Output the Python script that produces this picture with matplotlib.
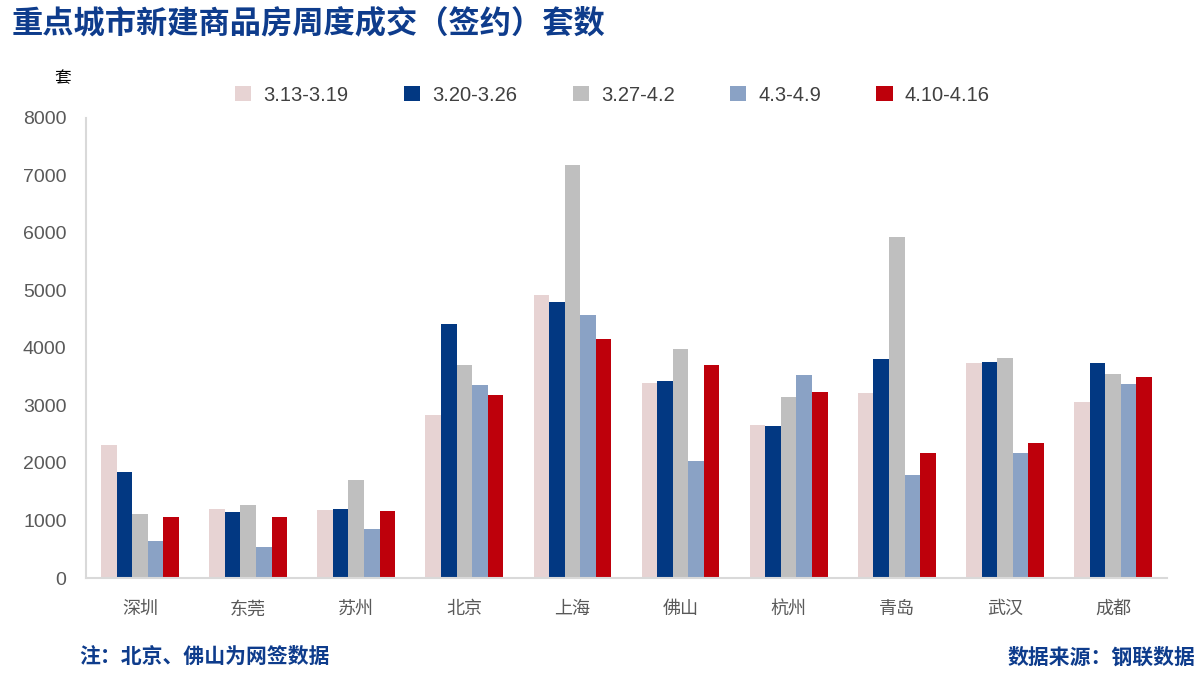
import numpy as np
import matplotlib
matplotlib.use("Agg")
import matplotlib.pyplot as plt

plt.rcParams['font.family'] = ['Noto Sans CJK SC', 'DejaVu Sans']

cities = ["深圳", "东莞", "苏州", "北京", "上海", "佛山", "杭州", "青岛", "武汉", "成都"]
weeks = ["3.13-3.19", "3.20-3.26", "3.27-4.2", "4.3-4.9", "4.10-4.16"]

w_0313 = [2320, 1200, 1185, 2835, 4920, 3390, 2660, 3220, 3740, 3060]
w_0320 = [1845, 1150, 1200, 4420, 4800, 3425, 2645, 3810, 3755, 3740]
w_0327 = [1115, 1270, 1705, 3705, 7185, 3985, 3150, 5930, 3825, 3550]
w_0403 = [645, 540, 850, 3355, 4575, 2035, 3530, 1790, 2175, 3375]
w_0410 = [1060, 1060, 1165, 3185, 4155, 3705, 3235, 2175, 2350, 3495]

series = [w_0313, w_0320, w_0327, w_0403, w_0410]
colors = ["#E7D3D3", "#023882", "#BFBFBF", "#8AA2C5", "#BE000B"]

fig = plt.figure(figsize=(12, 6.75), dpi=100)
ax = fig.add_axes([0.0717, 0.1437, 0.9008, 0.6815])

x = np.arange(len(cities))
bw = 0.144
for i, (vals, c, lab) in enumerate(zip(series, colors, weeks)):
    ax.bar(x + (i - 2) * bw, vals, width=bw, color=c, label=lab)

ax.set_xlim(-0.5, len(cities) - 0.5)
ax.set_ylim(0, 8000)
ax.set_yticks(range(0, 8001, 1000))
ax.set_xticks(x)
ax.set_xticklabels(cities, fontsize=13, color="#595959")
ax.tick_params(axis="y", labelsize=14, labelcolor="#595959", length=0, pad=14)
for t in ax.get_yticklabels():
    t.set_family("Liberation Sans")
ax.tick_params(axis="x", length=0, pad=16)
for s in ["top", "right"]:
    ax.spines[s].set_visible(False)
for s in ["left", "bottom"]:
    ax.spines[s].set_color("#D9D9D9")
    ax.spines[s].set_linewidth(1.5)

leg = ax.legend(loc="upper center", bbox_to_anchor=(0.487, 1.11), ncol=5, frameon=False,
                prop={"family": "Liberation Sans", "size": 14.5},
                handlelength=0.8, handleheight=0.8, columnspacing=2.75,
                handletextpad=0.6)
for t in leg.get_texts():
    t.set_color("#404040")

fig.text(0.052, 0.884, "套", fontsize=12, color="black", ha="center", va="center")

title_color = "#0E3C8C"
fig.text(0.01, 0.965, "重点城市新建商品房周度成交（签约）套数", fontsize=22.5, fontweight="bold",
         color=title_color, ha="left", va="center")
fig.text(0.066, 0.027, "注：北京、佛山为网签数据", fontsize=15, fontweight="bold",
         color=title_color, ha="left", va="center")
fig.text(0.996, 0.027, "数据来源：钢联数据", fontsize=15, fontweight="bold",
         color=title_color, ha="right", va="center")

fig.savefig("out.png", dpi=100)
